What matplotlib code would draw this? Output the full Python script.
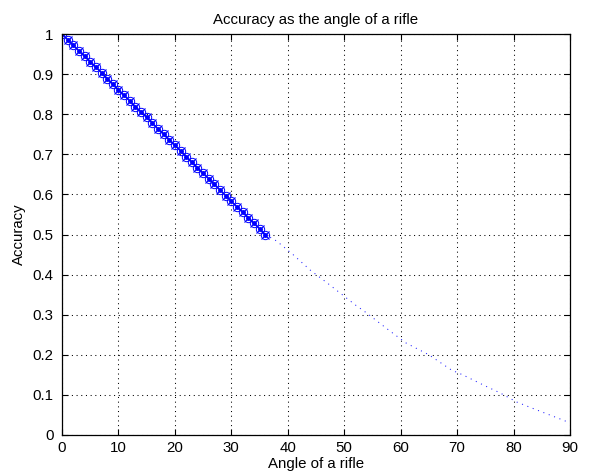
import matplotlib
matplotlib.use("Agg")
import matplotlib.pyplot as plt

# Marked segment (angle 0..36, step 1)
angle_marked = list(range(0, 37))
acc_marked = [1.000, 0.986, 0.972, 0.958, 0.944, 0.931, 0.917, 0.903, 0.889, 0.875,
              0.861, 0.847, 0.833, 0.819, 0.806, 0.792, 0.778, 0.764, 0.750, 0.736,
              0.722, 0.708, 0.694, 0.681, 0.667, 0.653, 0.639, 0.625, 0.611, 0.597,
              0.583, 0.569, 0.556, 0.542, 0.528, 0.514, 0.500]

# Dotted continuation
angle_dotted = [36, 38, 41, 44, 47, 49, 52, 54, 56, 58.6, 61, 65, 69, 71, 74.6, 77.6, 80.6, 84.2, 88.8, 90]
acc_dotted = [0.500, 0.484, 0.449, 0.411, 0.379, 0.357, 0.324, 0.304, 0.282, 0.254,
              0.229, 0.200, 0.162, 0.150, 0.125, 0.105, 0.082, 0.062, 0.037, 0.030]

xticks = [0, 10, 20, 30, 40, 50, 60, 70, 80, 90]
yticks = [0, 0.1, 0.2, 0.3, 0.4, 0.5, 0.6, 0.7, 0.8, 0.9, 1]
ytick_labels = ["0", "0.1", "0.2", "0.3", "0.4", "0.5", "0.6", "0.7", "0.8", "0.9", "1"]

plt.rcParams['font.family'] = ['Liberation Sans', 'DejaVu Sans']
FS = 10.8

fig = plt.figure(figsize=(5.92, 4.76), dpi=100)
ax = fig.add_axes([62/592, 1-435/476, (570-62)/592, (435-34)/476])

ax.plot(angle_dotted, acc_dotted, linestyle=(0, (1, 4.5)), color='#2020ff', linewidth=0.75)
ax.plot(angle_marked, acc_marked, linestyle='-', color='blue', linewidth=0.8,
        marker='o', markersize=6, markerfacecolor='none', markeredgewidth=0.7)
ax.plot(angle_marked, acc_marked, linestyle='none', color='blue',
        marker='x', markersize=6, markeredgewidth=0.8)
ax.plot(angle_marked, acc_marked, linestyle='none', color='blue',
        marker='.', markersize=5)

ax.set_xlim(0, 90)
ax.set_ylim(0, 1)
ax.set_xticks(xticks)
ax.set_xticklabels([str(t) for t in xticks])
ax.set_yticks(yticks)
ax.set_yticklabels(ytick_labels)
ax.grid(True, linestyle=(0, (1, 3.5)), color='black', linewidth=0.75)
ax.tick_params(direction='in', top=True, right=True, length=4, labelsize=FS, colors='black')
ax.tick_params(axis='y', pad=6)
ax.tick_params(axis='x', pad=4)
for s in ax.spines.values():
    s.set_linewidth(0.9)

ax.set_title("Accuracy as the angle of a rifle", fontsize=FS, pad=7)
ax.set_xlabel("Angle of a rifle", fontsize=FS, labelpad=2)
ax.set_ylabel("Accuracy", fontsize=FS, labelpad=5)

fig.savefig("out.png", dpi=100, facecolor='white')
